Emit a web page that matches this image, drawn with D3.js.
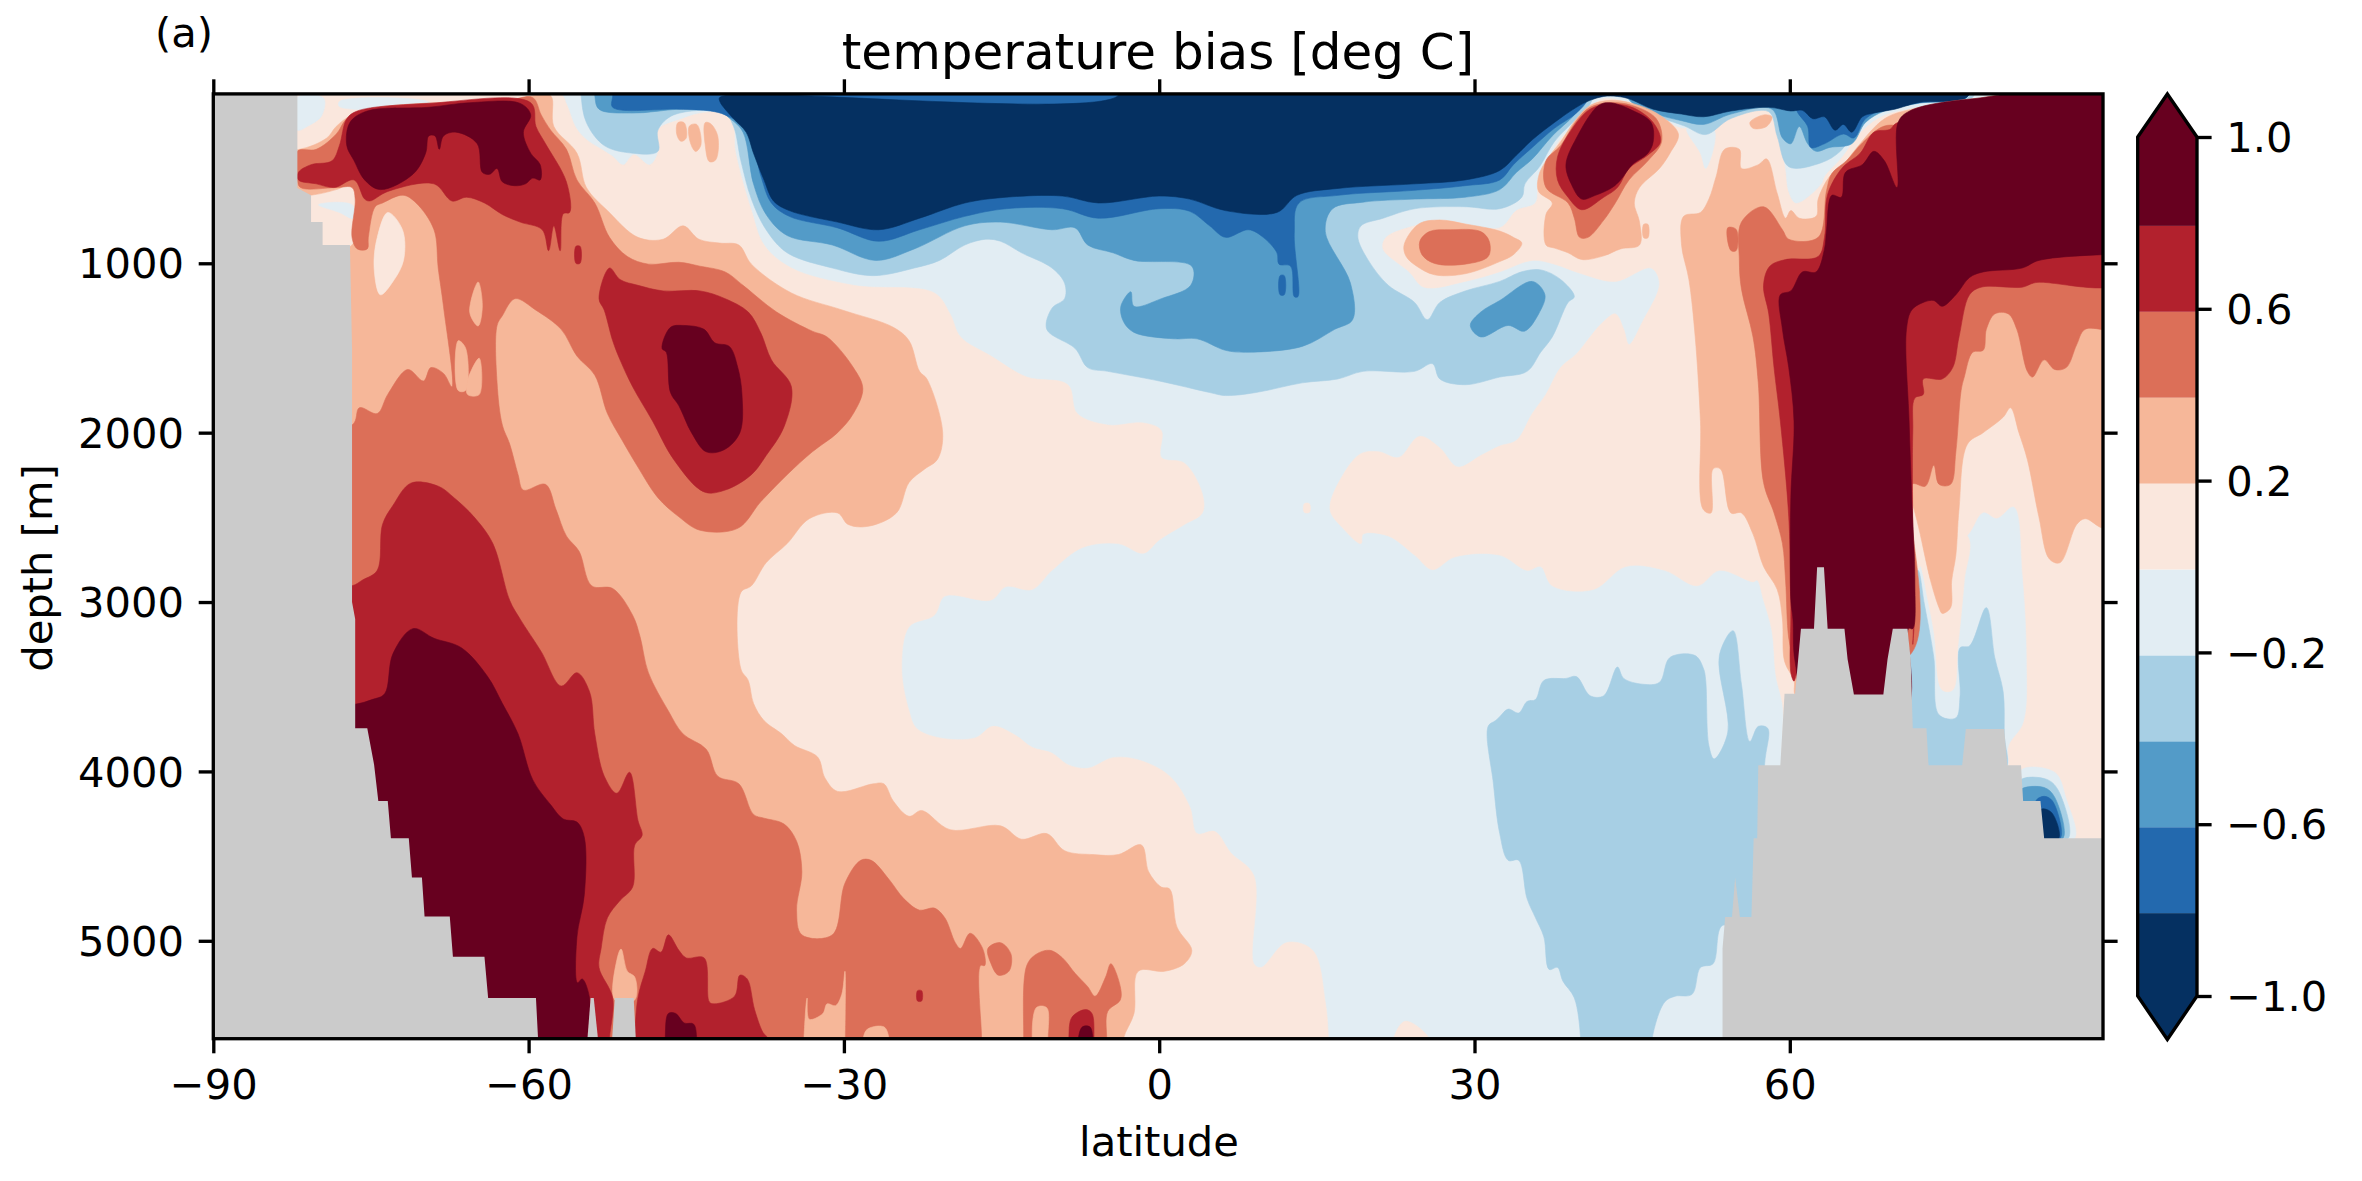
<!DOCTYPE html>
<html><head><meta charset="utf-8">
<script src="https://cdn.jsdelivr.net/npm/d3@7"></script>
<style>html,body{margin:0;padding:0;background:#fff}svg{display:block}text{font-family:"DejaVu Sans";fill:#000}</style>
</head><body><svg id="c" width="2362" height="1181"></svg>
<script>
// ---- Data: [latitude, depth] outlines of each contour band ----
const latTicks=[-90,-60,-30,0,30,60];
const depthTicks=[1000,2000,3000,4000,5000];
const barTicks=[1,0.6,0.2,-0.2,-0.6,-1];
const barLevels=[-1,-0.8,-0.6,-0.4,-0.2,0,0.2,0.4,0.6,0.8];
const bandColors=["#053061","#2369ae","#539bc8","#a7cfe4","#e2edf3","#fae7dd","#f6b799","#dc6f58","#b2212d","#67001f"];
const landColor="#cbcbcb";

const warm0=[
 // main southern / mid-depth region
 [[-57,0],[-56.4,60],[-55.5,200],[-54.5,270],[-53,330],[-52,370],[-51,420],[-50,360],[-48.5,420],[-47.7,350],[-47.7,214],[-45.5,150],[-43.2,110],[-40.8,124],[-40.3,350],[-38.8,689],[-37.6,892],[-35,1028],[-29.1,1130],[-21.4,1175],[-19.9,1299],[-18.9,1435],[-16,1548],[-12.6,1672],[-8.7,1717],[-7.8,1887],[-4.9,1955],[-1.5,1943],[0.2,1988],[0.2,2147],[2.4,2180],[4.1,2361],[4.1,2474],[2.4,2542],[0,2633],[-1.5,2712],[-3.9,2655],[-7.3,2678],[-10.2,2813],[-12.1,2926],[-14.6,2909],[-16,2988],[-20.4,2965],[-21.4,3078],[-23.8,3146],[-24.5,3395],[-23.8,3643],[-23.1,3745],[-20.9,3802],[-17.5,3802],[-15.8,3734],[-13.6,3790],[-12.1,3858],[-10.2,3892],[-8.7,3960],[-6.8,3982],[-4.4,3919],[-1.95,3933],[1,4028],[2.9,4208],[3.6,4367],[5.3,4355],[6.8,4480],[9,4615],[9,5135],[9.7,5158],[12.1,5011],[14.6,5056],[15.8,5361],[16.1,5578],[16.1,5700],[-90,5700],[-90,0]],
 // northern region
 [[16.25,2452],[17.5,2248],[19.2,2124],[20.9,2113],[22.8,2147],[24.75,2022],[26.7,2090],[28.4,2203],[30.6,2135],[32.4,2079],[34,2045],[35.5,1887],[36.8,1774],[38.2,1616],[39.7,1536],[41,1435],[42.1,1356],[43.4,1299],[44.2,1390],[44.7,1480],[46,1344],[47.6,1118],[46.8,1028],[43.4,1107],[40.2,1062],[37.6,1005],[35.5,983],[32.4,1050],[29.1,1107],[25.2,1141],[23.8,1051],[21.3,915],[21.6,847],[24.3,779],[26.7,745],[32.4,791],[34,689],[35.8,644],[36.1,508],[38,282],[39.7,169],[41,79],[42.3,29],[44.4,45],[47,101],[49.7,203],[51.8,169],[54.4,101],[58,90],[60,0],[90,0],[90,4500],[61,4500],[59.3,3598],[58.7,3440],[58.3,3169],[57.5,2988],[56.9,2871],[56.5,2881],[53.3,2813],[51.2,2904],[48.1,2813],[44.4,2790],[41.3,2926],[37.4,2904],[36.3,2790],[35,2813],[32.4,2723],[28.1,2734],[26,2809],[24.3,2723],[21.8,2610],[19.4,2599],[19.2,2655],[17.5,2565]],
 [[13.8,2420],[14.3,2420],[14.3,2470],[13.8,2470]],
 [[22.3,5578],[23.4,5475],[25.7,5578],[25.7,5700],[22.3,5700]]
];
const coolRim=[
 [[-82,20],[-79.5,25],[-79.7,130],[-81,190],[-82,214]],
 [[-78,45],[-70,38],[-69,70],[-78,75]],
 [[-80,655],[-78,640],[-76.7,660],[-76.7,735],[-78,700]],
 [[58,90],[58.9,214],[59.6,440],[59.9,576],[60.6,644],[63,531],[63.3,486],[64.8,384],[66.9,214],[69,124],[72.2,79],[77.4,29],[90,18],[90,-100],[58,-100]],
 [[50.2,203],[52.8,214],[52,440],[51.5,350]],
 [[76.9,2610],[78.4,2474],[79.7,2508],[81.3,2440],[82.1,2836],[82.5,3327],[82.2,3711],[80.8,3847],[80.5,4000],[71.6,4000],[71.9,3100],[72.2,2813]],
 [[82,3994],[85.2,4005],[86.3,4163],[87.1,4394],[84,4394]],
 [[40,4830],[40.8,4830],[40.9,5160],[40.2,5170]]
];
const cool1=[
 [[-55,11],[-54.5,169],[-52.8,305],[-50.1,350],[-47.7,339],[-47.7,214],[-46.2,124],[-41.4,113],[-40.5,192],[-39.8,395],[-38.8,621],[-37.4,802],[-35.4,938],[-31.1,1028],[-27.2,1073],[-23.3,1028],[-20.9,983],[-18.5,892],[-16.5,858],[-15.1,870],[-13.1,938],[-10.2,1028],[-9,1118],[-9,1209],[-10.2,1265],[-10.7,1390],[-8,1503],[-6.8,1616],[-4.9,1638],[0,1695],[4.8,1763],[6.3,1781],[9.2,1763],[13.6,1706],[17,1683],[19.4,1638],[24.3,1638],[26,1593],[26.7,1683],[29.1,1717],[32.4,1672],[35,1638],[36.3,1525],[37.4,1435],[38.9,1231],[39.5,1197],[38.2,1096],[36.3,1039],[34.5,1050],[32.4,1107],[29.1,1164],[26.7,1231],[25.5,1333],[24.3,1231],[21.8,1130],[19.9,983],[18.9,847],[19.2,779],[21.3,734],[24.3,678],[29.1,666],[32.4,678],[34.5,610],[34.8,531],[36.2,429],[37.6,282],[39.7,147],[41,60],[41.5,-100],[-55,-100]],
 [[44.4,11],[47,120],[50,190],[52,240],[54.4,145],[58,105],[58.8,250],[59.9,430],[63,406],[64.8,339],[66.4,203],[68.5,102],[71.6,56],[77.4,20],[77.4,-100],[44.4,-100]],
 [[31.3,3734],[32,3700],[32.4,3677],[33.2,3632],[34.2,3655],[35,3587],[35.8,3576],[36.6,3463],[38.7,3451],[39.7,3440],[41,3553],[42.3,3553],[43.6,3384],[44.2,3451],[46,3485],[47.6,3474],[48.6,3327],[51,3316],[51.8,3395],[52,3463],[52.3,3847],[52.8,3926],[54.1,3768],[53.3,3316],[54.6,3169],[55.4,3485],[56.2,3824],[57,3734],[57.9,3745],[57.6,3960],[57,5000],[53.6,4909],[52.7,5135],[51.5,5158],[50.7,5316],[49.1,5327],[48.1,5361],[46.9,5578],[46.9,5700],[40.1,5700],[40.1,5578],[39.5,5338],[38.4,5237],[37.9,5158],[37.1,5169],[36.6,4977],[35.8,4864],[35,4751],[34.2,4525],[33.2,4525],[32.4,4367],[31.8,4073]],
 [[72.2,2813],[72.8,3011],[73.7,3327],[74.2,3666],[75.8,3684],[76.2,3553],[76.2,3270],[77.1,3259],[78.7,3033],[79.5,3327],[80.3,3530],[80.4,3779],[80.4,4000],[71.6,4000],[71.3,3100]],
 [[82,4050],[84.4,4046],[85.5,4107],[86.5,4394],[84,4394],[82,4175]]
];
const cool2=[
 [[-53.7,11],[-53.3,90],[-50.1,113],[-45.7,90],[-42.3,90],[-40.8,147],[-39.6,226],[-38.6,531],[-37.4,712],[-35.4,836],[-31.1,892],[-27,983],[-23.3,915],[-18.5,779],[-15.1,757],[-10.2,802],[-8,791],[-6.8,892],[-4.4,938],[-2.4,983],[3.1,1017],[3,1130],[0.2,1209],[-2.4,1254],[-2.7,1168],[-3.65,1254],[-3.4,1344],[-2.4,1408],[1.4,1446],[3.6,1446],[6.3,1514],[8.2,1525],[13.6,1491],[16.7,1390],[18.4,1333],[18.2,1118],[15.8,813],[16.5,678],[19.4,639],[24.3,621],[29.1,610],[32.4,565],[34,463],[35.5,384],[37.4,248],[39.5,124],[40.6,29],[41,-100],[-53.7,-100]],
 [[29.6,1367],[30.6,1288],[32.4,1220],[35.5,1107],[36.7,1186],[36.1,1299],[34.75,1401],[33.2,1367],[30.6,1435]],
 [[44.7,32],[47,112],[49.7,158],[51.8,180],[54.4,119],[58.3,90],[59.3,260],[60.1,294],[60.9,192],[61.7,294],[62.5,339],[63.8,316],[65.9,294],[67.2,169],[69,101],[72.2,56],[76.9,16],[76.9,-100],[44.7,-100]],
 [[82,4107],[84.2,4095],[85.2,4152],[86,4394],[84,4394],[82,4175]]
];
const cool3=[
 [[-52,11],[-52,79],[-45.7,90],[-42.7,101],[-41.3,124],[-39.1,214],[-37.9,485],[-36.9,644],[-35.2,723],[-30.6,791],[-26.7,870],[-22.8,802],[-18.5,723],[-14.6,678],[-9.2,678],[-5.8,734],[0,678],[2.9,693],[4.8,779],[6.3,847],[8.5,802],[9.9,847],[11.2,938],[11.4,1005],[12.5,1017],[12.85,1197],[13.2,1197],[12.85,825],[13.3,644],[17,599],[24.3,569],[29.1,542],[32.4,508],[33.7,418],[35.5,316],[37.6,203],[39.7,113],[40.8,29],[41,-100],[-52,-100]],
 [[11.5,1073],[11.9,1073],[11.9,1186],[11.5,1186]],
 [[60.6,90],[61.7,192],[62,316],[63.3,294],[65.1,237],[66.1,260],[67.2,147],[69,90],[72.2,52],[76.9,16],[76.9,-100],[60.6,-100]],
 [[83.4,4175],[84.2,4147],[85,4175],[85.75,4394],[84,4394]]
];
const cool4=[
 [[-41.8,45],[-40.5,147],[-39.3,226],[-38.6,350],[-37.6,508],[-36.7,632],[-35.2,689],[-30.6,757],[-26.7,802],[-22.8,734],[-18.5,644],[-14.6,610],[-9.2,603],[-5.8,644],[0,603],[2.9,621],[6.3,689],[11.2,700],[13.1,599],[17,558],[24.3,531],[29.1,508],[32.4,452],[34,361],[35.5,271],[37.6,169],[39.7,79],[41,38],[42.3,15],[43.6,15],[44.7,29],[47,90],[49.7,119],[51.8,135],[54.4,101],[58,79],[60.1,101],[61.2,97],[62.2,147],[63.3,135],[64.3,214],[65.1,180],[65.9,226],[66.9,135],[68,113],[70,90],[72.2,52],[76.9,16],[77,-100],[-3.9,-100],[-3.9,10],[-41.8,20]],
 [[83.9,4224],[84.9,4242],[85.6,4394],[84.2,4394]]
];
const warm0Finger=[
 [[72.8,2875],[73.7,3169],[74.5,3519],[75.5,3519],[76,3259],[76.6,2875],[76.9,2610],[72,2519]]
];
const warm1=[
 [[-57.9,11],[-57.6,192],[-55.4,350],[-54.5,553],[-52.5,689],[-49.6,847],[-47.2,858],[-45.3,779],[-43.8,858],[-41.8,881],[-40,892],[-38.8,1005],[-35,1175],[-30.1,1277],[-25.3,1378],[-23.8,1457],[-22.8,1638],[-22.1,1683],[-20.6,2000],[-21.1,2158],[-22.3,2214],[-23.8,2294],[-25,2474],[-27.7,2553],[-29.6,2542],[-30.6,2474],[-33.3,2508],[-35.4,2655],[-37.4,2768],[-38.8,2904],[-39.8,2943],[-39.8,3395],[-39.1,3463],[-38.6,3598],[-37.6,3700],[-35.9,3779],[-34.7,3847],[-32.5,3915],[-31.8,4039],[-30.6,4118],[-27.2,4073],[-26.2,4073],[-25.3,4175],[-23.8,4265],[-22.6,4231],[-19.9,4344],[-15.1,4321],[-13.1,4400],[-10.7,4367],[-9,4468],[-6.3,4491],[-3.9,4491],[-1.7,4434],[-1,4593],[0.2,4683],[1,4694],[1.7,4920],[3.1,5056],[2.4,5135],[0.5,5180],[-2,5180],[-2.4,5429],[-3.4,5578],[-3.4,5700],[-90,5700],[-90,892],[-76.8,892],[-76.6,531],[-78.3,565],[-81,600],[-90,600],[-90,330],[-82,330],[-79.2,260],[-78.3,192],[-76.8,124],[-73.9,79],[-61.8,38],[-59.6,11]],
 [[-45.8,170],[-45.2,170],[-45,260],[-45.5,280],[-45.9,240]],
 [[-44.7,190],[-44,180],[-43.6,300],[-44.1,340],[-44.6,290]],
 [[-43.2,170],[-42.7,175],[-42,250],[-42.2,390],[-42.8,400],[-43.2,300]],
 // northern band
 [[53.8,327],[53,486],[52.3,621],[51.5,700],[49.9,723],[49.7,892],[50.4,1096],[51,1435],[51.5,1932],[51.75,2452],[52.5,2474],[52.7,2214],[53.4,2214],[54.4,2474],[55.4,2474],[56.5,2599],[57.5,2790],[58.8,2926],[59.3,3101],[59.5,3350],[60.4,3463],[60.6,3553],[66,3500],[71.5,3000],[71.5,2400],[72.1,2519],[73.4,2875],[74.2,3033],[74.5,3067],[75.3,3033],[75.4,2875],[75.8,2723],[76.1,2452],[76.9,2068],[78.4,2000],[80.3,1909],[81,1853],[81.8,2000],[82.6,2158],[83.7,2497],[84.7,2746],[85.7,2768],[87.3,2542],[88.1,2508],[89.8,2565],[92,2565],[92,18],[77.4,29],[71.6,90],[69,147],[66.4,316],[65.1,418],[63.8,486],[62.7,621],[62.5,723],[60.9,734],[60.1,689],[59.6,734],[58.8,587],[57.8,384],[57,418],[55.4,440],[55.2,327]],
 // ring of the northern warm core
 [[36.1,486],[36.8,395],[38.2,282],[39.7,147],[41,68],[42.9,38],[45,56],[47.6,124],[49.4,237],[48.6,350],[47.6,440],[45.7,553],[45.2,644],[45.7,757],[45.7,892],[43.9,915],[42.3,956],[40.2,978],[38.9,938],[37.6,910],[36.8,892],[36.8,712],[37.4,644],[36.1,576]],
 [[46.1,770],[46.5,770],[46.5,850],[46.1,850]],
 [[56.2,169],[57.5,124],[58.3,135],[57.8,192],[56.5,203]],
 // isolated core near 28N
 [[23.3,892],[24.7,768],[26.7,745],[29.1,768],[32.4,810],[33.7,847],[34.5,881],[33.7,949],[32.4,990],[29.1,1062],[26.2,1068],[24.5,1017],[23.5,960]]
];
const warm0Lens=[
 [[-73.4,700],[-72,802],[-71.9,982],[-72.9,1107],[-74.1,1186],[-74.7,1028],[-74.4,847]]
];
const warm2=[
 [[-59.6,22],[-58.8,124],[-57.9,214],[-56.4,327],[-55.4,508],[-53.7,644],[-52.3,847],[-50.6,960],[-48.6,1005],[-45.7,994],[-43.7,1017],[-41.3,1051],[-39.6,1130],[-36.4,1288],[-33,1401],[-31.6,1435],[-29.1,1616],[-28.2,1740],[-29.1,1887],[-30.6,2000],[-33,2113],[-35.4,2248],[-37.9,2407],[-40.1,2565],[-43.7,2576],[-45.7,2497],[-47.7,2384],[-49.6,2203],[-51.1,2045],[-52.5,1887],[-53.7,1661],[-55.4,1548],[-56.9,1390],[-59.3,1277],[-61.3,1209],[-62.5,1310],[-63,1367],[-63,1706],[-62.5,1955],[-61.8,2067],[-61,2248],[-60.5,2339],[-58.4,2305],[-57.4,2452],[-56.4,2610],[-55.2,2700],[-54,2904],[-52,2920],[-50.1,3078],[-49.4,3203],[-48.6,3417],[-46.7,3643],[-45.3,3779],[-43.1,3869],[-42,4028],[-40,4073],[-38.6,4254],[-37.6,4276],[-35.7,4310],[-34.5,4412],[-34,4593],[-34.5,4819],[-34,4965],[-31.1,4965],[-29.9,4660],[-28.4,4525],[-27.4,4525],[-25.7,4638],[-24.3,4751],[-22.8,4819],[-21.4,4807],[-20.4,4864],[-19.4,5011],[-18.9,5045],[-18,4955],[-16.8,5045],[-16.6,5146],[-17,5146],[-16.9,5578],[-16.9,5700],[-90,5700],[-90,1955],[-76.8,1955],[-76.1,1853],[-74.4,1887],[-73.4,1774],[-71.5,1627],[-70,1695],[-69.3,1616],[-68.1,1650],[-67.3,1729],[-68.1,1254],[-68.6,1028],[-69,802],[-70.7,644],[-71.95,598],[-73.9,644],[-74.6,666],[-75.25,847],[-75.35,915],[-76.3,915],[-76.8,847],[-76.5,621],[-76.8,553],[-78.3,553],[-81.7,553],[-82,508],[-82,339],[-80.2,327],[-78.3,237],[-77.3,147],[-75.35,90],[-61.8,34]],
 [[-16.3,5045],[-15.1,5011],[-14.1,5079],[-14.3,5180],[-15.3,5203],[-16,5135]],
 [[-12.9,5578],[-12.6,5146],[-11.7,5079],[-10.4,5056],[-9.2,5101],[-8,5192],[-6.8,5271],[-6.1,5327],[-5.1,5214],[-4.6,5135],[-3.7,5271],[-3.7,5349],[-4.9,5417],[-5,5578],[-5,5700],[-12.9,5700]],
 // northern band
 [[55.4,757],[57.5,666],[59.3,802],[59.9,858],[62.7,847],[63.5,570],[64,470],[65.4,394],[66.9,290],[69,190],[72,200],[92,200],[92,1378],[88.1,1390],[87.3,1480],[86.3,1616],[85.2,1627],[84.2,1570],[83.1,1672],[82.6,1638],[81.6,1390],[80.8,1299],[79.5,1299],[78.7,1390],[78.4,1514],[77.4,1525],[76.6,1672],[76.3,1751],[75.8,2113],[75.3,2305],[74.2,2305],[73.7,2192],[72.9,2316],[71.6,2305],[71.6,3300],[61,3500],[60.6,3417],[60.4,3350],[59.9,3214],[59.6,2875],[59.3,2655],[58.5,2474],[57.5,2294],[57,1706],[56.5,1435],[55.4,1152],[55.2,983]],
 [[54.1,790],[54.9,800],[54.9,925],[54.4,925]],
 [[36.8,395],[38.2,305],[39.7,158],[41,79],[42.9,52],[45,68],[47.3,147],[47.8,282],[46.5,395],[44.7,508],[43.4,644],[42.3,745],[40.8,847],[40,847],[39.5,734],[38.9,644],[36.8,553]],
 [[24.8,870],[25.7,813],[27.7,802],[30.6,813],[31.4,870],[31.3,960],[29.1,1005],[26.2,1001],[25,949]]
];
const warm1Over=[
 [[-66.7,1457],[-66,1500],[-66,1751],[-66.7,1751]],
 [[-65.8,1690],[-64.7,1560],[-64.7,1775],[-65.8,1775]],
 [[-65.6,1290],[-64.8,1110],[-64.4,1250],[-64.8,1370]],
 [[-29.9,5180],[-29.9,5578],[-29.9,5700],[-33.8,5700],[-33.8,5578],[-33.5,5338],[-33.3,5463],[-32,5429],[-31.6,5372],[-30.8,5383],[-30.2,5316]],
 [[-27.9,5530],[-26.2,5508],[-25.7,5578],[-25.7,5700],[-27.9,5700]],
 [[-11.7,5395],[-10.7,5395],[-10.6,5578],[-10.6,5700],[-11.7,5700]],
 [[-51.8,5349],[-51.6,5112],[-51.2,5049],[-50.6,5180],[-49.9,5214],[-49.9,5349]]
];
const warm3=[
 [[-77.3,147],[-76.3,101],[-69.5,56],[-59.8,52],[-59.3,192],[-58.4,293],[-56.4,520],[-56.1,700],[-56.7,707],[-57,926],[-57.6,779],[-58.1,926],[-58.7,802],[-60.8,757],[-62.5,712],[-64.2,644],[-65.9,610],[-67.3,632],[-69,531],[-73.4,576],[-75.1,632],[-75.6,621],[-76.6,508],[-78.5,553],[-80.2,531],[-81.9,508],[-81.9,463],[-80.7,418],[-78.7,395],[-78,305]],
 [[-55.5,900],[-55.1,900],[-55.1,1000],[-55.5,1000]],
 [[-52.3,1028],[-53.3,1209],[-52.8,1277],[-52,1457],[-51.3,1570],[-50.1,1729],[-48.2,1932],[-46.2,2158],[-43.3,2350],[-41.3,2339],[-38.8,2248],[-37.4,2135],[-35.7,1966],[-35,1728],[-36.9,1570],[-37.9,1412],[-39.1,1288],[-41.3,1209],[-43.7,1163],[-47.2,1163],[-49.6,1130],[-51.3,1096]],
 [[-76.8,2904],[-75.8,2870],[-74.4,2813],[-73.9,2542],[-72.9,2429],[-71.2,2298],[-68.6,2316],[-67.1,2384],[-65.2,2497],[-63.4,2655],[-61.8,2990],[-60.8,3101],[-58.8,3293],[-56.9,3496],[-55.4,3417],[-54.2,3530],[-53.7,3779],[-52.8,4028],[-51.6,4129],[-50.4,4005],[-49.6,4288],[-49.2,4378],[-49.9,4434],[-50.1,4683],[-51.3,4762],[-52.5,4864],[-53.1,5045],[-53.3,5158],[-52,5338],[-52.3,5578],[-52.3,5700],[-80,5700],[-80,2904]],
 [[-49.9,5578],[-49.6,5338],[-48.9,5180],[-48.2,5045],[-47.4,5067],[-46.7,4965],[-45.7,5056],[-45,5101],[-43.3,5101],[-42.8,5361],[-42.3,5372],[-40.4,5327],[-39.9,5203],[-39.2,5225],[-38.5,5406],[-37.7,5541],[-37.2,5578],[-37.2,5700],[-49.9,5700]],
 [[-23,5295],[-22.6,5295],[-22.6,5355],[-23,5355]],
 [[-8.6,5578],[-8.3,5451],[-7,5406],[-6.4,5429],[-6.2,5578],[-6.2,5700],[-8.6,5700]],
 // northern band
 [[57.5,1130],[58,1299],[58.5,1616],[59.1,1932],[59.9,2497],[60.1,2990],[60.1,3101],[60.1,3417],[60.4,3467],[60.6,3429],[61,3300],[71.4,3000],[71.7,3250],[71.7,2000],[71.9,1796],[72.7,1774],[72.7,1683],[74.5,1683],[75.5,1616],[76.1,1435],[77.1,1186],[78.2,1141],[82.1,1141],[83.4,1114],[92,1102],[92,300],[70.3,169],[69.5,210],[68,226],[66.7,350],[65.1,429],[64,531],[63.5,621],[63.3,847],[62.7,960],[59.6,978],[58.1,1017]],
 [[37.9,372],[39.2,214],[41,90],[42.9,61],[45,79],[47,169],[47.7,282],[46.5,361],[44.7,440],[43.6,553],[42.3,610],[40.2,684],[38.9,610],[37.9,508]]
];
const warm4=[
 [[-77.3,305],[-77,169],[-75.35,101],[-69.5,79],[-65.6,52],[-60.8,56],[-59.8,124],[-60.5,226],[-59.8,350],[-58.9,418],[-58.9,508],[-59.6,497],[-60.3,531],[-61.3,542],[-62.5,519],[-63,440],[-63.7,474],[-64.4,463],[-64.9,293],[-66.9,226],[-68.1,248],[-68.5,327],[-68.9,248],[-69.5,248],[-69.8,350],[-71,474],[-74.1,565],[-75.6,508],[-76.6,395]],
 [[-46.5,1378],[-45.3,1367],[-43.3,1390],[-42.3,1469],[-40.9,1491],[-40.1,1615],[-39.7,1774],[-39.9,2000],[-41.4,2101],[-43.1,2113],[-44.5,2000],[-45.7,1841],[-46.5,1763],[-46.9,1525],[-47.3,1503]],
 [[-76.5,3603],[-74.9,3576],[-73.7,3542],[-72.9,3304],[-71,3157],[-69,3214],[-66.4,3270],[-63.9,3440],[-62.5,3598],[-61,3779],[-59.6,4050],[-57.9,4197],[-56.7,4281],[-55.4,4299],[-54.7,4389],[-54.7,4728],[-55.4,4977],[-55.35,5248],[-54.9,5225],[-54.2,5338],[-54.4,5578],[-54.4,5700],[-80,5700],[-80,3603]],
 [[-47,5578],[-46.7,5429],[-46,5429],[-45.2,5485],[-44.3,5492],[-44,5578],[-44,5700],[-47,5700]],
 [[-7.7,5578],[-7.3,5508],[-6.6,5508],[-6.3,5578],[-6.3,5700],[-7.7,5700]],
 // northern band
 [[59.1,1186],[59.3,1390],[59.9,1616],[60.4,1932],[60.1,2384],[60.1,2990],[60.3,3101],[60.5,3350],[62,3650],[71,3650],[71.3,3157],[71.7,3157],[71.9,2875],[71.6,2384],[71.35,1932],[71.1,1390],[71.6,1276],[72.7,1231],[73.7,1220],[74.5,1254],[75.8,1186],[77.1,1084],[78.4,1051],[82.1,1028],[83.7,983],[89.8,949],[92,949],[92,22],[77.4,29],[71.4,101],[70.3,169],[70.2,553],[69,395],[68,339],[66.9,418],[65.3,463],[64.9,610],[64,599],[63.5,802],[63.3,915],[62.5,1051],[61.2,1051],[60.1,1163]],
 [[38.7,418],[39.7,260],[41.8,68],[42.9,52],[45,97],[46.8,169],[47,282],[46.5,350],[45,418],[43.9,508],[43.1,553],[41.5,599],[40.2,621],[39.2,531]]
];
const land=[
 [[-90,0],[-82,0],[-82,555],[-80.7,598],[-80.7,757],[-79.6,757],[-79.6,892],[-77,892],[-76.8,1500],[-76.8,3000],[-76.5,3100],[-76.5,3745],[-75.35,3745],[-74.7,3960],[-74.3,4174],[-73.4,4174],[-73.1,4394],[-71.4,4394],[-71.1,4626],[-70.15,4626],[-69.9,4857],[-67.5,4857],[-67.2,5094],[-64.2,5094],[-63.85,5338],[-59.3,5338],[-59.1,5578],[-90,5578]],
 [[-54.4,5578],[-54.1,5338],[-53.8,5338],[-53.4,5578]],
 [[-52.05,5578],[-51.8,5338],[-50,5338],[-49.8,5578]],
 [[53.6,5578],[53.6,5045],[53.85,4859],[54.5,4859],[54.8,4626],[55.25,4859],[56.35,4859],[56.56,4394],[56.9,4394],[57,3964],[59.1,3964],[59.5,3542],[60.5,3542],[61.06,3157],[62.3,3157],[62.6,2795],[63.25,2795],[63.6,3157],[65.2,3157],[65.5,3338],[66.1,3546],[68.9,3546],[69.3,3338],[69.8,3157],[71.2,3157],[71.5,3338],[71.7,3745],[73,3745],[73.2,3964],[76.4,3964],[76.75,3750],[80.4,3750],[80.7,3964],[82,3964],[82.2,4174],[83.85,4174],[84.2,4394],[90,4394],[90,5578]]
];
// paint order, as band index into bandColors
const paintOrder=[[5,warm0],[4,coolRim],[3,cool1],[2,cool2],[1,cool3],[0,cool4],[5,warm0Finger],[6,warm1],[5,warm0Lens],[7,warm2],[6,warm1Over],[8,warm3],[9,warm4]];

// ---- Chart ----
const svg=d3.select("#c");
const L=213.3,R=2103,T=93.9,B=1038.7,FS=41.67,TL=14.6,SW=3.33;
const x=d3.scaleLinear().domain([-90,89.8]).range([L,R]);
const y=d3.scaleLinear().domain([0,5578]).range([T,B]);
svg.append("rect").attr("width",2362).attr("height",1181).attr("fill","#fff");
svg.append("clipPath").attr("id","pa").append("rect").attr("x",L).attr("y",T).attr("width",R-L).attr("height",B-T);
const plot=svg.append("g").attr("clip-path","url(#pa)");
plot.append("rect").attr("x",L).attr("y",T).attr("width",R-L).attr("height",B-T).attr("fill",bandColors[4]);
const smooth=d3.line().x(d=>x(d[0])).y(d=>y(d[1])).curve(d3.curveCatmullRomClosed.alpha(0.5));
const straight=d3.line().x(d=>x(d[0])).y(d=>y(d[1]));
paintOrder.forEach(([band,polys])=>{
  plot.append("g").selectAll("path").data(polys).join("path")
    .attr("d",d=>smooth(d)).attr("fill",bandColors[band]).attr("stroke",bandColors[band]).attr("stroke-width",0.6);
});
plot.append("g").selectAll("path").data(land).join("path").attr("d",d=>straight(d)+"Z").attr("fill",landColor);

function styleAxis(g){g.selectAll("path.domain").remove();
  g.selectAll("line").attr("stroke","#000").attr("stroke-width",SW);
  g.selectAll("text").attr("font-size",FS).attr("font-family","DejaVu Sans").attr("fill","#000");}
svg.append("g").attr("transform",`translate(0,${B})`).call(d3.axisBottom(x).tickValues(latTicks).tickSize(TL).tickPadding(14.5)).call(styleAxis)
  .selectAll("text").attr("dy",0).attr("y",60.3);
svg.append("g").attr("transform",`translate(0,${T})`).call(d3.axisTop(x).tickValues(latTicks).tickSize(TL).tickFormat("")).call(styleAxis);
svg.append("g").attr("transform",`translate(${L},0)`).call(d3.axisLeft(y).tickValues(depthTicks).tickSize(TL).tickPadding(14.6).tickFormat(d3.format("d"))).call(styleAxis)
  .selectAll("text").attr("dy",0).attr("y",14.7);
svg.append("g").attr("transform",`translate(${R},0)`).call(d3.axisRight(y).tickValues(depthTicks).tickSize(TL).tickFormat("")).call(styleAxis);
svg.append("rect").attr("x",L).attr("y",T).attr("width",R-L).attr("height",B-T).attr("fill","none").attr("stroke","#000").attr("stroke-width",SW);

svg.append("text").attr("x",1158).attr("y",69).attr("text-anchor","middle").attr("font-size",50).text("temperature bias [deg C]");
svg.append("text").attr("x",155).attr("y",47).attr("font-size",FS).text("(a)");
svg.append("text").attr("x",1159).attr("y",1156).attr("text-anchor","middle").attr("font-size",FS).text("latitude");
svg.append("text").attr("transform","translate(52,568) rotate(-90)").attr("text-anchor","middle").attr("font-size",FS).text("depth [m]");

// colour bar
const CL=2137.7,CR=2197,CT=94,CB=1039.5;
const cy=d3.scaleLinear().domain([-1,1]).range([996,137]);
const cyBand=d3.scaleLinear().domain([-1,1]).range([999,140]);
const bar=svg.append("g");
barLevels.forEach((lv,i)=>{
  const top=i===barLevels.length-1?CT:cyBand(lv+0.2), bot=i===0?CB:cyBand(lv);
  bar.append("rect").attr("x",CL).attr("width",CR-CL).attr("y",top).attr("height",bot-top).attr("fill",bandColors[i]);
});
const outline=`M${CL},${cy(1)}L${(CL+CR)/2},${CT}L${CR},${cy(1)}L${CR},${cy(-1)}L${(CL+CR)/2},${CB}L${CL},${cy(-1)}Z`;
svg.append("clipPath").attr("id","cb").append("path").attr("d",outline);
bar.attr("clip-path","url(#cb)");
svg.append("path").attr("d",outline).attr("fill","none").attr("stroke","#000").attr("stroke-width",SW);
svg.append("g").attr("transform",`translate(${CR},0)`).call(d3.axisRight(cy).tickValues(barTicks).tickSize(TL).tickPadding(14.6).tickFormat(d3.format(".1f"))).call(styleAxis)
  .selectAll("text").attr("dy",0).attr("y",14.7);
</script></body></html>
